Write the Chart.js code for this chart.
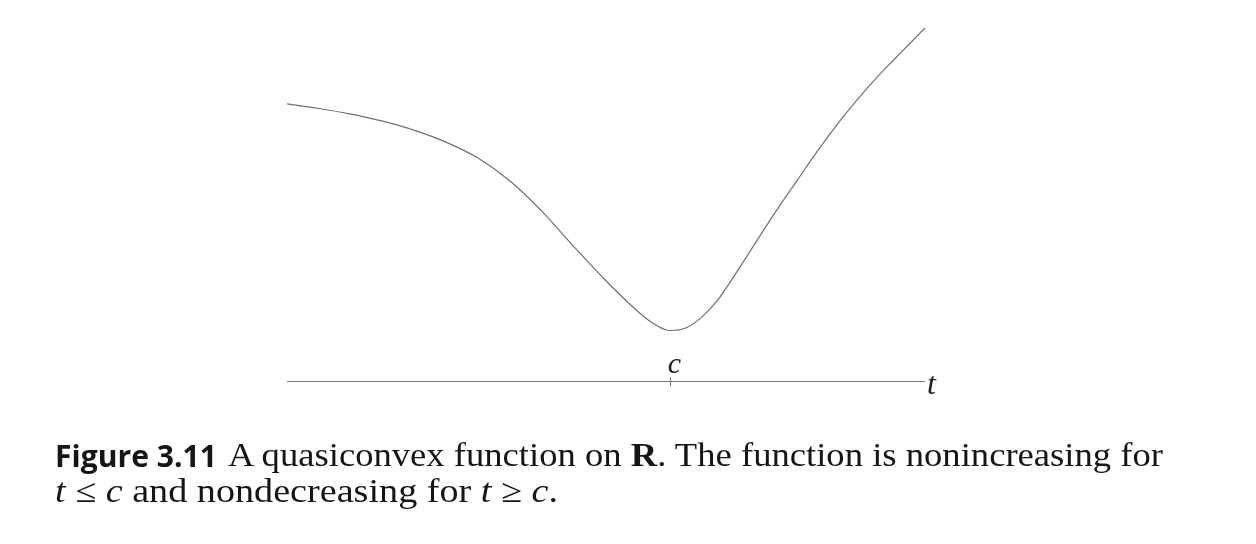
<!DOCTYPE html>
<html>
<head>
<meta charset="utf-8">
<script src="https://cdn.jsdelivr.net/npm/chart.js@4"></script>
<style>
  html, body { margin: 0; padding: 0; background: #fff; }
  body { width: 1256px; height: 544px; position: relative; overflow: hidden; }
  #c { position: absolute; left: 0; top: 0; }
  .cap { position: absolute; font-family: "Liberation Serif", serif; font-size: 33px; color: #151515; white-space: nowrap; line-height: 1; transform-origin: 0 0; }
  .fig { font-family: "Open Sans", "DejaVu Sans", sans-serif; font-weight: 700; font-size: 31px; }
  .cap i { font-style: italic; }
</style>
</head>
<body>
<canvas id="c" width="1256" height="544"></canvas>
<div class="cap fig" id="f1" data-w="162" style="left:55px; top:439.5px;">Figure 3.11</div>
<div class="cap" id="l1" data-w="935" style="left:228px; top:439.4px;">A quasiconvex function on <b>R</b>. The function is nonincreasing for</div>
<div class="cap" id="l2" data-w="503" style="left:55px; top:475.4px;"><i>t</i> ≤ <i>c</i> and nondecreasing for <i>t</i> ≥ <i>c</i>.</div>
<script>
// curve samples (t, f(t))
const tValues = [0, 0.5, 1.0, 1.5, 2.0, 2.5, 3.0, 3.5, 4.0, 4.5, 5.0, 5.5, 5.75, 6.0, 6.25, 6.5, 6.75, 7.0, 7.25, 7.5, 7.75, 8.0, 8.25, 8.5, 8.75, 9.0, 9.25, 9.5, 9.75, 10];
const fValues = [7.85, 7.72, 7.56, 7.36, 7.10, 6.76, 6.31, 5.66, 4.80, 3.80, 2.84, 1.97, 1.62, 1.43, 1.50, 1.81, 2.29, 2.95, 3.65, 4.36, 5.04, 5.69, 6.35, 6.97, 7.56, 8.10, 8.61, 9.08, 9.54, 10.0];
const xRange = [0, 10];
const yRange = [0, 10];
const tickValues = [6.0];
const tickLabels = ['c'];
const axisLabel = 't';

const points = tValues.map((t, i) => ({ x: t, y: fValues[i] }));

const axisPlugin = {
  id: 'axisPlugin',
  afterDatasetsDraw(chart) {
    const ctx = chart.ctx;
    const xs = chart.scales.x, ys = chart.scales.y;
    const y0 = Math.round(ys.getPixelForValue(0)) + 0.5;
    const xl = xs.getPixelForValue(xRange[0]);
    const xr = xs.getPixelForValue(xRange[1]);
    ctx.save();
    ctx.strokeStyle = '#7a7a7a';
    ctx.lineWidth = 1.1;
    ctx.beginPath();
    ctx.moveTo(xl, y0);
    ctx.lineTo(xr, y0);
    ctx.stroke();
    ctx.fillStyle = '#222';
    ctx.textAlign = 'center';
    ctx.textBaseline = 'alphabetic';
    tickValues.forEach((v, i) => {
      const px = Math.round(xs.getPixelForValue(v)) + 0.5;
      ctx.beginPath();
      ctx.moveTo(px, y0 - 4);
      ctx.lineTo(px, y0 + 5);
      ctx.stroke();
      ctx.font = 'italic 30px "Liberation Serif", serif';
      ctx.fillText(tickLabels[i], px + 4, y0 - 9);
    });
    ctx.font = 'italic 32px "Liberation Serif", serif';
    ctx.textAlign = 'left';
    ctx.fillText(axisLabel, xr + 2, y0 + 12);
    ctx.restore();
  }
};

new Chart(document.getElementById('c'), {
  type: 'line',
  data: {
    datasets: [{
      data: points,
      borderColor: '#707070',
      borderWidth: 1.2,
      pointRadius: 0,
      fill: false,
      cubicInterpolationMode: 'monotone',
      clip: false
    }]
  },
  options: {
    responsive: false,
    animation: false,
    devicePixelRatio: 1,
    layout: { padding: { left: 287, right: 331, top: 28, bottom: 163 } },
    plugins: { legend: { display: false }, tooltip: { enabled: false } },
    scales: {
      x: { type: 'linear', min: xRange[0], max: xRange[1], display: false },
      y: { type: 'linear', min: yRange[0], max: yRange[1], display: false }
    }
  },
  plugins: [axisPlugin]
});

// fit caption lines horizontally to the reference widths
document.querySelectorAll('.cap').forEach(el => {
  const target = parseFloat(el.dataset.w);
  const w = el.getBoundingClientRect().width;
  if (w > 0) el.style.transform = 'scaleX(' + (target / w) + ')';
});
</script>
</body>
</html>
